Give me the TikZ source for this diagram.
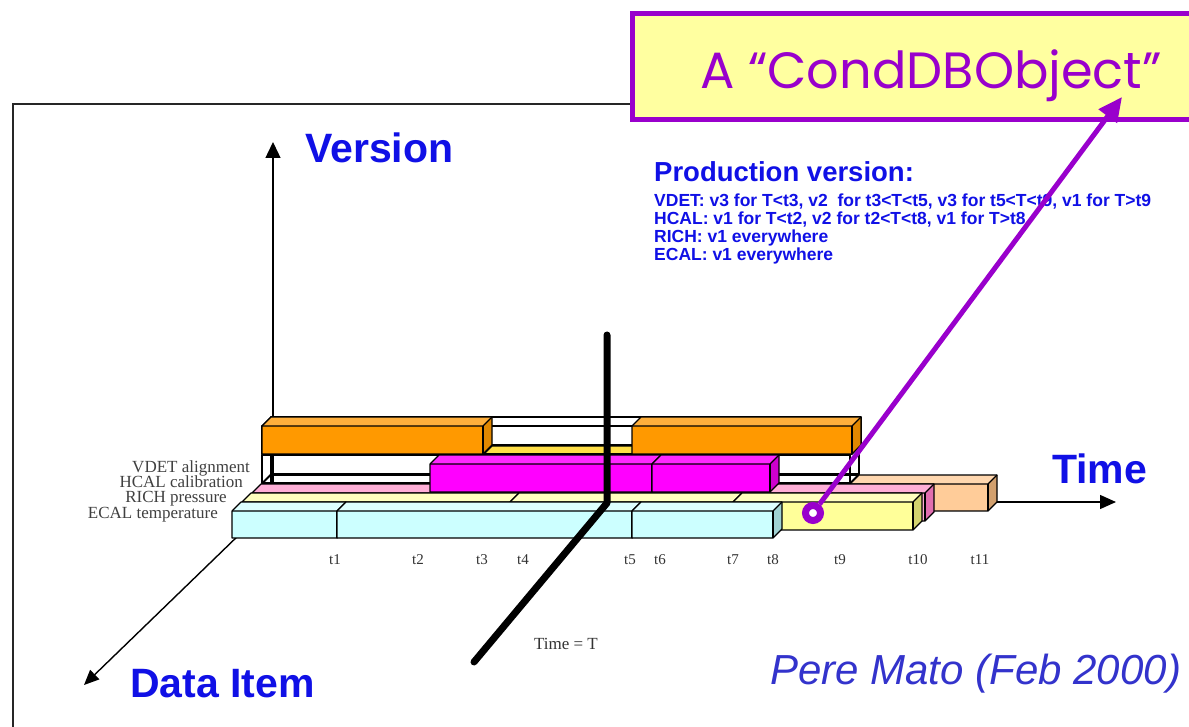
\documentclass[tikz,border=0pt]{standalone}
\usepackage{fontspec}
\setmainfont{Liberation Serif}
\setsansfont{Liberation Sans}
\newfontfamily\casualfont{Poppins}
\usetikzlibrary{arrows.meta}
\definecolor{axblue}{RGB}{16,16,230}
\definecolor{sigblue}{RGB}{51,51,204}
\definecolor{purp}{RGB}{153,0,204}
\definecolor{boxyel}{RGB}{255,255,160}
\definecolor{cynF}{RGB}{204,255,255}\definecolor{cynT}{RGB}{222,255,255}\definecolor{cynS}{RGB}{160,210,210}
\definecolor{yelF}{RGB}{255,255,153}\definecolor{yelT}{RGB}{255,255,190}\definecolor{yelS}{RGB}{210,210,110}
\definecolor{pinkF}{RGB}{255,170,210}\definecolor{pinkT}{RGB}{255,175,215}\definecolor{pinkS}{RGB}{225,110,175}
\definecolor{magF}{RGB}{255,0,255}\definecolor{magT}{RGB}{255,40,255}\definecolor{magS}{RGB}{205,0,205}
\definecolor{orngF}{RGB}{255,153,0}\definecolor{orngT}{RGB}{255,175,60}\definecolor{orngS}{RGB}{225,135,0}
\definecolor{goldF}{RGB}{255,220,40}\definecolor{goldT}{RGB}{255,222,70}\definecolor{goldS}{RGB}{205,170,0}
\definecolor{peachF}{RGB}{255,204,153}\definecolor{peachT}{RGB}{255,215,175}\definecolor{peachS}{RGB}{210,160,110}
\tikzset{
  barline/.style={line width=1.2pt, black, line join=round},
  axlabel/.style={font=\sffamily\bfseries\fontsize{41}{48}\selectfont, text=axblue, inner sep=0, anchor=base west},
  rowlab/.style={font=\rmfamily\fontsize{17}{20}\selectfont, text=black!75, inner sep=0, anchor=east},
  ticklab/.style={font=\rmfamily\fontsize{15}{18}\selectfont, text=black!80, inner sep=0},
  prodline/.style={font=\sffamily\bfseries\fontsize{17.5}{20}\selectfont, text=axblue, inner sep=0, anchor=base west},
  thinax/.style={line width=1.4pt, black},
}
\newcommand\tdbox[5]{%
  \fill[fill=#5F] (#1,#3) rectangle (#2,{#3+#4});
  \fill[fill=#5T] (#1,#3) -- ({#1+9},{#3-9}) -- ({#2+9},{#3-9}) -- (#2,#3) -- cycle;
  \fill[fill=#5S] (#2,#3) -- ({#2+9},{#3-9}) -- ({#2+9},{#3+#4-9}) -- (#2,{#3+#4}) -- cycle;
  \draw[barline] (#1,{#3+#4}) -- (#1,#3) -- ({#1+9},{#3-9}) -- ({#2+9},{#3-9}) -- ({#2+9},{#3+#4-9}) -- (#2,{#3+#4}) -- cycle;
  \draw[barline] (#1,#3) -- (#2,#3) -- ({#2+9},{#3-9});
  \draw[barline] (#2,#3) -- (#2,{#3+#4});
}
\newcommand\wirebox[4]{%
  \draw[barline] (#1,#3) rectangle (#2,{#3+#4});
  \draw[barline] ({#1+9},{#3-9}) rectangle ({#2+9},{#3+#4-9});
  \draw[barline] (#1,#3) -- ++(9,-9) (#2,#3) -- ++(9,-9) (#1,{#3+#4}) -- ++(9,-9) (#2,{#3+#4}) -- ++(9,-9);
}
\begin{document}
\begin{tikzpicture}[x=1pt,y=-1pt]
\useasboundingbox (0,0) rectangle (1189,727);
\clip (0,0) rectangle (1189,727);
\fill[white] (0,0) rectangle (1189,727);

% frame
\coordinate (fbl) at (13,740);
\coordinate (ftl) at (13,104);
\coordinate (ftr) at (1200,104);
\draw[line width=1.6pt, black!85] (fbl) -- (ftl) -- (ftr);

% axes
\coordinate (origin) at (273,502);
\coordinate (vtip) at (273,142);
\coordinate (ttip) at (1116,502);
\coordinate (dtip) at (84,685);
\draw[thinax, -{Triangle[length=16pt,width=15pt]}] (origin) -- (vtip);
\draw[thinax, -{Triangle[length=16pt,width=14pt]}] (origin) -- (ttip);
\draw[thinax, -{Triangle[length=15pt,width=13pt]}] (origin) -- (dtip);

% VDET row
\wirebox{262}{850}{484}{27}
\tdbox{850}{988}{484}{27}{peach}
\wirebox{262}{850}{455}{28}
\tdbox{483}{632}{455}{28}{gold}
\wirebox{262}{852}{426}{28}
\tdbox{262}{483}{426}{28}{orng}
\tdbox{632}{852}{426}{28}{orng}
% HCAL row
\tdbox{252}{925}{493}{28}{pink}
\tdbox{430}{652}{464}{28}{mag}
\tdbox{652}{770}{464}{28}{mag}
% RICH row
\tdbox{242}{510}{502}{28}{yel}
\tdbox{510}{733}{502}{28}{yel}
\tdbox{733}{913}{502}{28}{yel}
% ECAL row
\tdbox{232}{337}{511}{27}{cyn}
\tdbox{337}{632}{511}{27}{cyn}
\tdbox{632}{773}{511}{27}{cyn}

% row labels
\node[rowlab] (lvdet) at (250,468) {VDET alignment};
\node[rowlab] (lhcal) at (243,482) {HCAL calibration};
\node[rowlab] (lrich) at (227,499) {RICH pressure};
\node[rowlab] (lecal) at (218,515) {ECAL temperature};

% tick labels
\foreach \n/\x in {1/335,2/418,3/482,4/523,5/630,6/660,7/733,8/773,9/840,10/918,11/980}
  \node[ticklab] (t\n) at (\x,560) {t\n};

% Time = T line
\coordinate (tT1) at (607,335);
\coordinate (tT2) at (607,503);
\coordinate (tT3) at (474,662);
\draw[line width=7pt, line join=round, line cap=round] (tT1) -- (tT2) -- (tT3);
\node[ticklab, font=\rmfamily\fontsize{17}{20}\selectfont] (timeT) at (566,644) {Time = T};

% axis labels
\node[axlabel] (version) at (305,163) {Version};
\node[axlabel] (time) at (1052,483) {Time};
\node[axlabel] (dataitem) at (130,697) {Data Item};

% production version text
\node[prodline, font=\sffamily\bfseries\fontsize{27.5}{30}\selectfont] (prod) at (654,182) {Production version:};
\node[prodline] (pv1) at (654,207) {VDET: v3 for T<t3, v2~ for t3<T<t5, v3 for t5<T<t9, v1 for T>t9};
\node[prodline] (pv2) at (654,225) {HCAL: v1 for T<t2, v2 for t2<T<t8, v1 for T>t8};
\node[prodline] (pv3) at (654,243) {RICH: v1 everywhere};
\node[prodline] (pv4) at (654,261) {ECAL: v1 everywhere};

% signature
\node[inner sep=0, anchor=base west, text=sigblue, font=\sffamily\itshape\fontsize{42}{48}\selectfont] (sig) at (770,684) {Pere Mato (Feb 2000)};

% CondDBObject callout
\node[draw=purp, line width=5pt, fill=boxyel, minimum width=600pt, minimum height=106pt, anchor=north west, inner sep=0] (cbox) at (630,11) {};
\node[inner sep=0, anchor=base west, text=purp, font=\casualfont\fontsize{51}{58}\selectfont] (ctext) at (700,89) {A “CondDBObject”};
\coordinate (ctip) at (1122,97);
\node[draw=purp, line width=7pt, circle, fill=white, minimum size=15pt, inner sep=0] (ring) at (813,513) {};
\draw[purp, line width=5pt, -{Triangle[length=24pt,width=22pt]}] (ring) -- (ctip);
\end{tikzpicture}
\end{document}
